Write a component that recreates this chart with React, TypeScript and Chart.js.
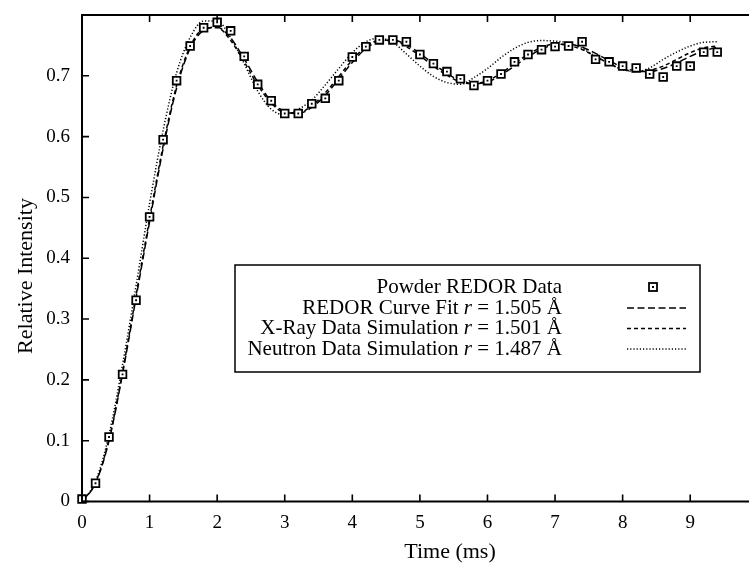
import React, { useEffect, useRef } from "react";
import { Chart, registerables } from "chart.js";

Chart.register(...registerables);

// Time axis (ms) of the measured points and of the sampled curves
const sampleTimes = [
  0, 0.2, 0.4, 0.6, 0.8, 1.0, 1.2, 1.4, 1.6, 1.8, 2.0, 2.2, 2.4, 2.6, 2.8, 3.0,
  3.2, 3.4, 3.6, 3.8, 4.0, 4.2, 4.4, 4.6, 4.8, 5.0, 5.2, 5.4, 5.6, 5.8, 6.0, 6.2,
  6.4, 6.6, 6.8, 7.0, 7.2, 7.4, 7.6, 7.8, 8.0, 8.2, 8.4, 8.6, 8.8, 9.0, 9.2, 9.4,
];

const powderRedorData = [
  0.004, 0.03, 0.106, 0.209, 0.331, 0.468, 0.595, 0.692, 0.749, 0.779, 0.788, 0.774,
  0.732, 0.686, 0.659, 0.638, 0.638, 0.654, 0.663, 0.692, 0.731, 0.748, 0.759, 0.759,
  0.756, 0.735, 0.72, 0.707, 0.695, 0.684, 0.692, 0.703, 0.723, 0.735, 0.743, 0.748,
  0.749, 0.756, 0.727, 0.723, 0.716, 0.713, 0.703, 0.698, 0.716, 0.716, 0.739, 0.739,
];

const redorCurveFit = [
  0, 0.03, 0.1, 0.21, 0.335, 0.46, 0.58, 0.68, 0.745, 0.775, 0.78, 0.762,
  0.728, 0.69, 0.658, 0.641, 0.638, 0.648, 0.668, 0.695, 0.722, 0.745, 0.757, 0.759,
  0.751, 0.737, 0.72, 0.704, 0.692, 0.687, 0.69, 0.701, 0.716, 0.731, 0.744, 0.751,
  0.752, 0.747, 0.737, 0.725, 0.714, 0.708, 0.707, 0.712, 0.721, 0.732, 0.741, 0.747,
];

const xRaySimulation = [
  0, 0.031, 0.102, 0.213, 0.339, 0.465, 0.585, 0.684, 0.748, 0.777, 0.779, 0.758,
  0.723, 0.685, 0.655, 0.64, 0.639, 0.651, 0.672, 0.699, 0.726, 0.748, 0.758, 0.758,
  0.748, 0.733, 0.716, 0.701, 0.69, 0.687, 0.692, 0.704, 0.72, 0.735, 0.747, 0.752,
  0.75, 0.743, 0.732, 0.72, 0.711, 0.707, 0.709, 0.716, 0.727, 0.738, 0.746, 0.749,
];

const neutronSimulation = [
  0, 0.033, 0.11, 0.225, 0.355, 0.49, 0.61, 0.705, 0.763, 0.79, 0.79, 0.763,
  0.72, 0.675, 0.645, 0.636, 0.645, 0.66, 0.685, 0.712, 0.738, 0.756, 0.762, 0.755,
  0.736, 0.716, 0.699, 0.689, 0.686, 0.697, 0.712, 0.73, 0.745, 0.755, 0.758, 0.757,
  0.754, 0.745, 0.732, 0.72, 0.71, 0.707, 0.713, 0.727, 0.739, 0.749, 0.755, 0.756,
];

const xTickValues = [0, 1, 2, 3, 4, 5, 6, 7, 8, 9];
const yTickValues = [0, 0.1, 0.2, 0.3, 0.4, 0.5, 0.6, 0.7];

const legendRows = [
  { pre: "Powder REDOR Data", r: "", post: "" },
  { pre: "REDOR Curve Fit ", r: "r", post: " = 1.505 Å" },
  { pre: "X-Ray Data Simulation ", r: "r", post: " = 1.501 Å" },
  { pre: "Neutron Data Simulation ", r: "r", post: " = 1.487 Å" },
];

const X_TITLE = "Time (ms)";
const Y_TITLE = "Relative Intensity";

const FONT = "'Liberation Serif', 'DejaVu Serif', serif";

const toPts = (xs: number[], ys: number[]) => xs.map((x, i) => ({ x, y: ys[i] }));

const DASHES = [[7, 3.5], [4, 3], [1.2, 2]];

const framePlugin = {
  id: "frameAndLegend",
  afterDraw(chart: any) {
    const { ctx, chartArea } = chart;
    const { left, top, right, bottom } = chartArea;
    const xs = chart.scales.x;
    const ys = chart.scales.y;
    ctx.save();
    ctx.strokeStyle = "#000";
    ctx.lineWidth = 2;
    ctx.setLineDash([]);
    ctx.beginPath();
    ctx.moveTo(right + 4, top);
    ctx.lineTo(left, top);
    ctx.lineTo(left, bottom);
    ctx.lineTo(right + 4, bottom);
    ctx.stroke();

    ctx.lineWidth = 1.6;
    ctx.beginPath();
    for (const v of xTickValues) {
      const px = xs.getPixelForValue(v);
      ctx.moveTo(px, top);
      ctx.lineTo(px, top + 7);
      ctx.moveTo(px, bottom);
      ctx.lineTo(px, bottom - 7);
    }
    for (const v of yTickValues) {
      const py = ys.getPixelForValue(v);
      ctx.moveTo(left, py);
      ctx.lineTo(left + 7, py);
    }
    ctx.stroke();

    // axis titles
    ctx.fillStyle = "#000";
    ctx.font = `22px ${FONT}`;
    ctx.textAlign = "center";
    ctx.textBaseline = "middle";
    ctx.fillText(X_TITLE, 450, 552);
    ctx.save();
    ctx.translate(26, 276);
    ctx.rotate(-Math.PI / 2);
    ctx.fillText(Y_TITLE, 0, 0);
    ctx.restore();

    // legend box
    const bx = 235, by = 265, bw = 465, bh = 107;
    ctx.fillStyle = "#fff";
    ctx.fillRect(bx, by, bw, bh);
    ctx.strokeStyle = "#000";
    ctx.lineWidth = 1.5;
    ctx.strokeRect(bx, by, bw, bh);

    const rowY = [287, 308, 328.5, 349];
    const textRight = 562;
    ctx.textAlign = "left";
    ctx.textBaseline = "middle";
    legendRows.forEach((row, i) => {
      const nf = `21px ${FONT}`;
      const itf = `italic 21px ${FONT}`;
      ctx.font = nf;
      const w1 = ctx.measureText(row.pre).width;
      const w3 = ctx.measureText(row.post).width;
      ctx.font = itf;
      const w2 = row.r ? ctx.measureText(row.r).width : 0;
      let x0 = textRight - (w1 + w2 + w3);
      const y0 = rowY[i];
      ctx.font = nf;
      ctx.fillStyle = "#000";
      ctx.fillText(row.pre, x0, y0);
      x0 += w1;
      if (row.r) {
        ctx.font = itf;
        ctx.fillText(row.r, x0, y0);
        x0 += w2;
        ctx.font = nf;
        ctx.fillText(row.post, x0, y0);
      }
      if (i === 0) {
        ctx.setLineDash([]);
        ctx.lineWidth = 1.8;
        ctx.strokeStyle = "#000";
        ctx.fillStyle = "#fff";
        ctx.fillRect(649, y0 - 4, 8, 8);
        ctx.strokeRect(649, y0 - 4, 8, 8);
        ctx.fillStyle = "#000";
        ctx.fillRect(652, y0 - 1, 2, 2);
      } else {
        ctx.setLineDash(DASHES[i - 1]);
        ctx.lineWidth = 1.5;
        ctx.strokeStyle = "#000";
        ctx.beginPath();
        ctx.moveTo(627, y0);
        ctx.lineTo(686, y0);
        ctx.stroke();
        ctx.setLineDash([]);
      }
    });
    ctx.restore();
  },
};

export default function App() {
  const canvasRef = useRef<HTMLCanvasElement | null>(null);

  useEffect(() => {
    const canvas = canvasRef.current;
    if (!canvas) return;
    const lineDs = (label: string, ys: number[], dash: number[]) => ({
      label,
      data: toPts(sampleTimes, ys),
      showLine: true,
      borderColor: "#000",
      borderWidth: 1.5,
      borderDash: dash,
      pointRadius: 0,
      pointHoverRadius: 0,
      fill: false,
      cubicInterpolationMode: "monotone" as const,
      order: 2,
    });
    const chart = new Chart(canvas, {
      type: "scatter",
      data: {
        datasets: [
          {
            label: "Powder REDOR Data centre",
            data: toPts(sampleTimes, powderRedorData),
            showLine: false,
            pointStyle: "rect",
            pointRadius: 1.3,
            pointBackgroundColor: "#000",
            pointBorderWidth: 0,
            pointBorderColor: "#000",
            clip: 10,
            order: 0,
          },
          {
            label: "Powder REDOR Data",
            data: toPts(sampleTimes, powderRedorData),
            showLine: false,
            pointStyle: "rect",
            pointRadius: 5.4,
            pointBackgroundColor: "#fff",
            pointBorderColor: "#000",
            pointBorderWidth: 1.8,
            clip: 10,
            order: 1,
          },
          lineDs("REDOR Curve Fit r = 1.505 Å", redorCurveFit, DASHES[0]),
          lineDs("X-Ray Data Simulation r = 1.501 Å", xRaySimulation, DASHES[1]),
          lineDs("Neutron Data Simulation r = 1.487 Å", neutronSimulation, DASHES[2]),
        ],
      },
      options: {
        animation: false,
        responsive: false,
        maintainAspectRatio: false,
        events: [],
        layout: { autoPadding: false, padding: { left: 0, right: 0, top: 15, bottom: 0 } },
        plugins: {
          legend: { display: false },
          tooltip: { enabled: false },
          title: { display: false },
        },
        scales: {
          x: {
            type: "linear",
            min: 0,
            max: 9.87,
            grid: { display: false, drawTicks: false },
            border: { display: false },
            ticks: {
              stepSize: 1,
              includeBounds: false,
              color: "#000",
              padding: 10,
              maxRotation: 0,
              font: { family: FONT, size: 19 },
              callback: (v: any) => String(Math.round(Number(v))),
            },
            afterFit: (s: any) => {
              s.height = 65.5;
              s.paddingLeft = 0;
              s.paddingRight = 0;
            },
          },
          y: {
            type: "linear",
            min: 0,
            max: 0.8,
            grid: { display: false, drawTicks: false },
            border: { display: false },
            ticks: {
              stepSize: 0.1,
              color: "#000",
              padding: 12,
              font: { family: FONT, size: 19 },
              callback: (v: any) => {
                const n = Number(v);
                if (n > 0.75) return "";
                return String(Number(n.toFixed(1)));
              },
            },
            afterFit: (s: any) => {
              s.width = 82;
              s.paddingTop = 0;
              s.paddingBottom = 0;
            },
          },
        },
      },
      plugins: [framePlugin],
    });
    return () => chart.destroy();
  }, []);

  return (
    <div style={{ position: "fixed", left: 0, top: 0, width: 749, height: 567, background: "#fff" }}>
      <canvas ref={canvasRef} width={749} height={567} style={{ display: "block" }} />
    </div>
  );
}
